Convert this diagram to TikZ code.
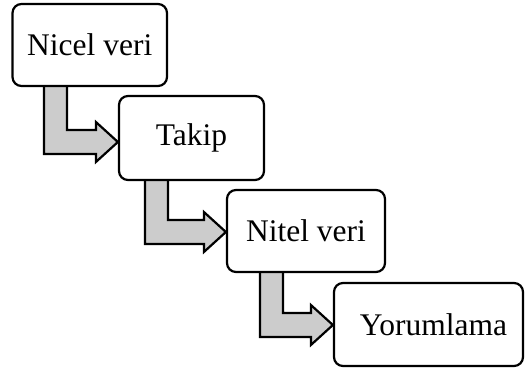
\documentclass[tikz,border=0pt]{standalone}
\usepackage{fontspec}
\setmainfont{Liberation Serif}
\usetikzlibrary{backgrounds,calc}
\tikzset{
  box/.style={draw=black, line width=2.2pt, fill=white, rounded corners=9pt,
    inner sep=0pt, font=\fontsize{31.5}{36}\selectfont},
  arr/.style={draw=black, line width=2.2pt, fill=black!20, line join=miter}
}
\newcommand\bentarr[4]{%
  \draw[arr] let \p1=(#1.south west), \p2=(#3.west) in
    (\x1+#2pt,\y1+3pt) -- (\x1+#2pt+23pt,\y1+3pt)
    -- (\x1+#2pt+23pt,\y2-#4pt+12pt) -- (\x2-22pt,\y2-#4pt+12pt)
    -- (\x2-22pt,\y2-#4pt+20pt) -- (\x2,\y2-#4pt)
    -- (\x2-22pt,\y2-#4pt-20pt) -- (\x2-22pt,\y2-#4pt-12pt)
    -- (\x1+#2pt,\y2-#4pt-12pt) -- cycle;}
\begin{document}
\begin{tikzpicture}[x=1pt,y=-1pt]
\useasboundingbox (0,0) rectangle (525,372);
\node[box, minimum width=154.5pt, minimum height=82pt] (b1) at (89.75,45) {Nicel veri};
\node[box, minimum width=145pt, minimum height=84pt] (b2) at (191.5,138) {Takip};
\node[box, minimum width=158pt, minimum height=82pt] (b3) at (306,231) {Nitel veri};
\node[box, minimum width=189pt, minimum height=83pt] (b4) at (428.5,324.5) {\hspace*{10pt}Yorumlama};
\begin{scope}[on background layer]
  \bentarr{b1}{32.5}{b2}{4}
  \bentarr{b2}{27}{b3}{1}
  \bentarr{b3}{34}{b4}{0.5}
\end{scope}
\end{tikzpicture}
\end{document}
